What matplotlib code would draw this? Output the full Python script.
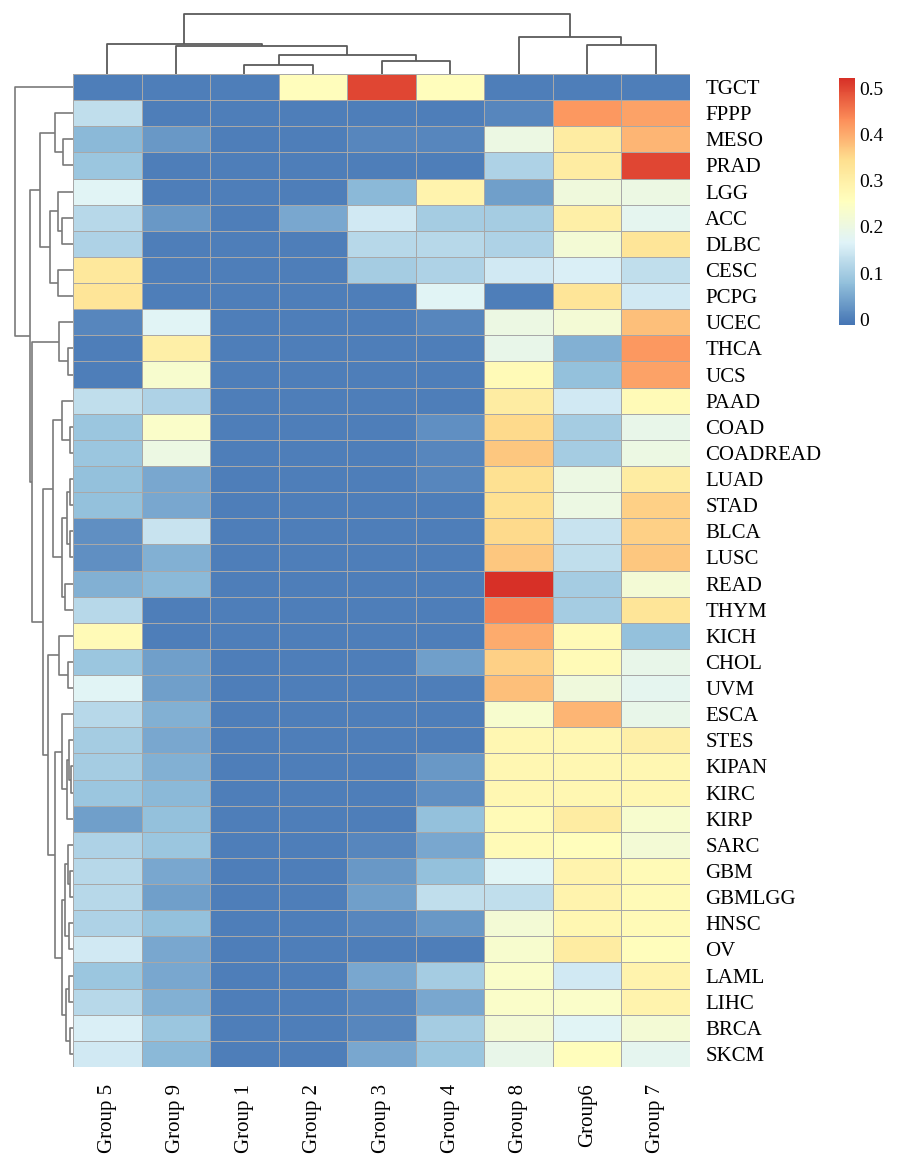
import numpy as np
import matplotlib
matplotlib.use('Agg')
import matplotlib.pyplot as plt
from matplotlib.colors import LinearSegmentedColormap

plt.rcParams['font.family'] = ['Liberation Serif', 'DejaVu Serif']

# column order as displayed (after clustering)
groups = ['Group 5', 'Group 9', 'Group 1', 'Group 2', 'Group 3',
          'Group 4', 'Group 8', 'Group6', 'Group 7']

cancers = ['TGCT', 'FPPP', 'MESO', 'PRAD', 'LGG', 'ACC', 'DLBC', 'CESC', 'PCPG',
           'UCEC', 'THCA', 'UCS', 'PAAD', 'COAD', 'COADREAD', 'LUAD', 'STAD',
           'BLCA', 'LUSC', 'READ', 'THYM', 'KICH', 'CHOL', 'UVM', 'ESCA', 'STES',
           'KIPAN', 'KIRC', 'KIRP', 'SARC', 'GBM', 'GBMLGG', 'HNSC', 'OV', 'LAML',
           'LIHC', 'BRCA', 'SKCM']

# values per cancer, columns in the order of `groups`
values = [
    [0.00, 0.00, 0.00, 0.26, 0.50, 0.26, 0.00, 0.00, 0.00],  # TGCT
    [0.13, 0.00, 0.00, 0.00, 0.00, 0.00, 0.01, 0.42, 0.41],  # FPPP
    [0.07, 0.03, 0.00, 0.00, 0.01, 0.01, 0.20, 0.31, 0.39],  # MESO
    [0.09, 0.00, 0.00, 0.00, 0.00, 0.00, 0.11, 0.31, 0.50],  # PRAD
    [0.17, 0.00, 0.00, 0.00, 0.07, 0.29, 0.04, 0.21, 0.20],  # LGG
    [0.12, 0.03, 0.00, 0.05, 0.15, 0.10, 0.10, 0.30, 0.18],  # ACC
    [0.11, 0.00, 0.00, 0.00, 0.12, 0.12, 0.11, 0.22, 0.33],  # DLBC
    [0.32, 0.00, 0.00, 0.00, 0.10, 0.11, 0.15, 0.16, 0.13],  # CESC
    [0.33, 0.00, 0.00, 0.00, 0.00, 0.17, 0.00, 0.33, 0.15],  # PCPG
    [0.01, 0.17, 0.00, 0.00, 0.00, 0.01, 0.20, 0.22, 0.38],  # UCEC
    [0.00, 0.30, 0.00, 0.00, 0.00, 0.00, 0.19, 0.06, 0.42],  # THCA
    [0.00, 0.23, 0.00, 0.00, 0.00, 0.00, 0.27, 0.08, 0.41],  # UCS
    [0.13, 0.11, 0.00, 0.00, 0.00, 0.00, 0.31, 0.15, 0.27],  # PAAD
    [0.09, 0.24, 0.00, 0.00, 0.00, 0.02, 0.35, 0.10, 0.19],  # COAD
    [0.09, 0.20, 0.00, 0.00, 0.00, 0.01, 0.37, 0.10, 0.20],  # COADREAD
    [0.08, 0.05, 0.00, 0.00, 0.00, 0.01, 0.34, 0.20, 0.31],  # LUAD
    [0.08, 0.05, 0.00, 0.00, 0.00, 0.00, 0.34, 0.20, 0.36],  # STAD
    [0.02, 0.14, 0.00, 0.00, 0.00, 0.00, 0.35, 0.14, 0.36],  # BLCA
    [0.02, 0.06, 0.00, 0.00, 0.00, 0.00, 0.37, 0.13, 0.37],  # LUSC
    [0.06, 0.07, 0.00, 0.00, 0.00, 0.00, 0.52, 0.10, 0.22],  # READ
    [0.12, 0.00, 0.00, 0.00, 0.00, 0.00, 0.44, 0.10, 0.33],  # THYM
    [0.27, 0.00, 0.00, 0.00, 0.00, 0.00, 0.40, 0.27, 0.08],  # KICH
    [0.09, 0.04, 0.00, 0.00, 0.00, 0.04, 0.36, 0.27, 0.19],  # CHOL
    [0.17, 0.04, 0.00, 0.00, 0.00, 0.00, 0.38, 0.21, 0.18],  # UVM
    [0.12, 0.06, 0.00, 0.00, 0.00, 0.00, 0.23, 0.39, 0.19],  # ESCA
    [0.10, 0.05, 0.00, 0.00, 0.00, 0.00, 0.28, 0.28, 0.30],  # STES
    [0.10, 0.06, 0.00, 0.00, 0.00, 0.03, 0.28, 0.28, 0.28],  # KIPAN
    [0.09, 0.07, 0.00, 0.00, 0.00, 0.02, 0.28, 0.28, 0.28],  # KIRC
    [0.04, 0.08, 0.00, 0.00, 0.00, 0.08, 0.27, 0.31, 0.23],  # KIRP
    [0.11, 0.09, 0.00, 0.00, 0.01, 0.05, 0.27, 0.26, 0.22],  # SARC
    [0.12, 0.05, 0.00, 0.00, 0.03, 0.08, 0.17, 0.29, 0.27],  # GBM
    [0.12, 0.04, 0.00, 0.00, 0.04, 0.13, 0.13, 0.29, 0.27],  # GBMLGG
    [0.11, 0.08, 0.00, 0.00, 0.01, 0.03, 0.22, 0.28, 0.27],  # HNSC
    [0.15, 0.05, 0.00, 0.00, 0.00, 0.00, 0.23, 0.31, 0.26],  # OV
    [0.09, 0.05, 0.00, 0.00, 0.05, 0.10, 0.24, 0.15, 0.29],  # LAML
    [0.12, 0.06, 0.00, 0.00, 0.01, 0.05, 0.24, 0.24, 0.29],  # LIHC
    [0.16, 0.09, 0.00, 0.00, 0.01, 0.10, 0.22, 0.17, 0.22],  # BRCA
    [0.15, 0.07, 0.00, 0.00, 0.05, 0.09, 0.19, 0.26, 0.18],  # SKCM
]

# dendrograms: (left, right, merge height), leaves are display indices
col_tree = ((0, (1, ((2, 3, 9), (4, 5, 13), 19), 28), 30),
            (6, (7, 8, 29), 37), 61)

row_tree = (0,
            (((1, (2, 3, 10), 18),
              ((4, (5, 6, 11), 15), (7, 8, 15), 23), 33),
             ((9, (10, 11, 5), 14),
              (((12, (13, 14, 3), 11),
                (((15, 16, 3), (17, 18, 3), 6), (19, 20, 8), 11), 20),
               ((21, (22, 23, 5), 14),
                ((24, ((25, (26, 27, 2), 4), 28, 6), 11),
                 ((((29, (30, 31, 3), 5), (32, 33, 4), 8),
                   ((34, 35, 4), (36, 37, 3), 7), 11)), 18), 25), 30), 41), 43),
            59)


def draw_tree(ax, node, orient):
    # returns (position, height) of the node and draws its link
    if isinstance(node, int):
        return node + 0.5, 0.0
    left, right, h = node
    p1, h1 = draw_tree(ax, left, orient)
    p2, h2 = draw_tree(ax, right, orient)
    a = [p1, p1, p2, p2]
    b = [h1, h, h, h2]
    if orient == 'top':
        ax.plot(a, b, color='#5a5a5a', lw=1.3, solid_capstyle='butt')
    else:
        ax.plot(b, a, color='#7a7a7a', lw=1.2, solid_capstyle='butt')
    return (p1 + p2) / 2, h


data = np.array(values)
n_rows, n_cols = data.shape

cmap = LinearSegmentedColormap.from_list(
    'pheat', ['#4575B4', '#91BFDB', '#E0F3F8', '#FFFFBF', '#FEE090', '#FC8D59', '#D73027'])

W, H = 898, 1159
fig = plt.figure(figsize=(W / 100, H / 100), dpi=100)

hx0, hx1, hy0, hy1 = 73, 690, 74, 1067
ax = fig.add_axes([hx0 / W, 1 - hy1 / H, (hx1 - hx0) / W, (hy1 - hy0) / H])
mesh = ax.pcolormesh(data, cmap=cmap, vmin=-0.012, vmax=0.522,
                     edgecolors='#a8a8a8', linewidth=0.6)
ax.set_xlim(0, n_cols)
ax.set_ylim(n_rows, 0)
for s in ax.spines.values():
    s.set_visible(False)
ax.yaxis.tick_right()
ax.set_yticks(np.arange(n_rows) + 0.5)
ax.set_yticklabels(cancers, fontsize=15)
ax.set_xticks(np.arange(n_cols) + 0.5)
ax.set_xticklabels(groups, rotation=90, fontsize=15)
ax.tick_params(axis='y', length=0, pad=11)
ax.tick_params(axis='x', length=0, pad=12)

# top dendrogram
axt = fig.add_axes([hx0 / W, 1 - hy0 / H, (hx1 - hx0) / W, (hy0 - 13) / H])
draw_tree(axt, col_tree, 'top')
axt.set_xlim(0, n_cols)
axt.set_ylim(0, col_tree[2] + 0.6)
axt.axis('off')

# left dendrogram
axl = fig.add_axes([14 / W, 1 - hy1 / H, (hx0 - 14) / W, (hy1 - hy0) / H])
draw_tree(axl, row_tree, 'left')
axl.set_ylim(n_rows, 0)
axl.set_xlim(row_tree[2] + 0.6, 0)
axl.axis('off')

# colorbar
cax = fig.add_axes([839 / W, 1 - 325 / H, 16 / W, 247 / H])
cb = fig.colorbar(mesh, cax=cax, ticks=[0, 0.1, 0.2, 0.3, 0.4, 0.5])
cb.ax.set_yticklabels(['0', '0.1', '0.2', '0.3', '0.4', '0.5'], fontsize=14)
cb.ax.tick_params(length=0, pad=3)
cb.outline.set_visible(False)

fig.savefig('out.png', dpi=100)
